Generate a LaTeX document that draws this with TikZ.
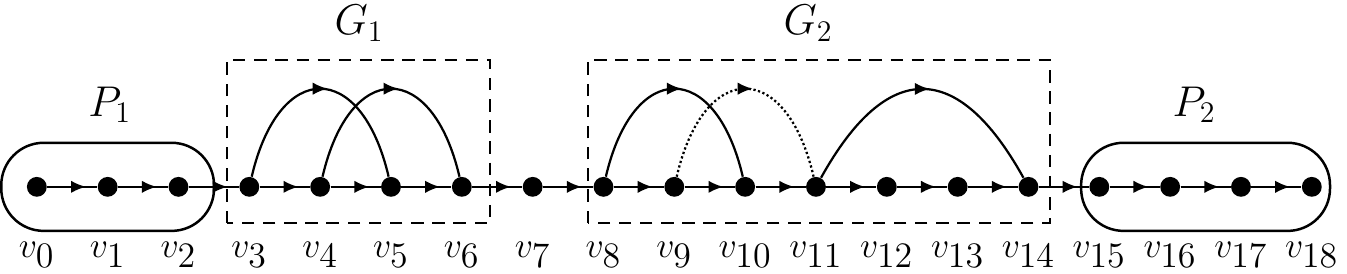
\documentclass[tikz,border=0pt]{standalone}
\usetikzlibrary{arrows.meta,decorations.markings,fit}
\DeclareMathSizes{14.4}{14.4}{14.4}{10}

\begin{document}
\begin{tikzpicture}[
  dot/.style={circle,fill=black,minimum size=0.28cm,inner sep=0pt},
  chainarr/.style={line width=0.9pt,postaction={decorate},decoration={markings,
    mark=at position 0.5 with {\arrow[xshift=5.5pt]{Latex[length=6pt,width=5pt]}}}},
  skiparr/.style={line width=0.9pt,postaction={decorate},decoration={markings,
    mark=at position 0.5 with {\arrow[xshift=3pt]{Latex[length=6pt,width=5pt]}}}},
  pathbox/.style={draw,line width=1pt,rounded corners=0.6cm,inner xsep=0.355cm,inner ysep=0.475cm},
  groupbox/.style={draw,line width=0.7pt,dash pattern=on 5pt off 3.5pt},
  vlab/.style={font=\Large,inner sep=0pt},
  title/.style={font=\LARGE,anchor=base},
  label distance=0.62cm,
  every label/.style={vlab},
]
\useasboundingbox (0,0) rectangle (19.017,3.868);

% === Vertices ===
\node[dot,label=below:$v_0$] (v0) at (0.52,1.23) {};
\node[dot,label=below:$v_1$] (v1) at (1.52,1.23) {};
\node[dot,label=below:$v_2$] (v2) at (2.52,1.23) {};
\node[dot,label=below:$v_3$] (v3) at (3.52,1.23) {};
\node[dot,label=below:$v_4$] (v4) at (4.52,1.23) {};
\node[dot,label=below:$v_5$] (v5) at (5.52,1.23) {};
\node[dot,label=below:$v_6$] (v6) at (6.52,1.23) {};
\node[dot,label=below:$v_7$] (v7) at (7.52,1.23) {};
\node[dot,label=below:$v_8$] (v8) at (8.52,1.23) {};
\node[dot,label=below:$v_9$] (v9) at (9.52,1.23) {};
\node[dot,label=below:$v_{10}$] (v10) at (10.52,1.23) {};
\node[dot,label=below:$v_{11}$] (v11) at (11.52,1.23) {};
\node[dot,label=below:$v_{12}$] (v12) at (12.52,1.23) {};
\node[dot,label=below:$v_{13}$] (v13) at (13.52,1.23) {};
\node[dot,label=below:$v_{14}$] (v14) at (14.52,1.23) {};
\node[dot,label=below:$v_{15}$] (v15) at (15.52,1.23) {};
\node[dot,label=below:$v_{16}$] (v16) at (16.52,1.23) {};
\node[dot,label=below:$v_{17}$] (v17) at (17.52,1.23) {};
\node[dot,label=below:$v_{18}$] (v18) at (18.52,1.23) {};

% === Main path ===
\draw[chainarr] (v0) -- (v1); \draw[chainarr] (v1) -- (v2); \draw[chainarr] (v2) -- (v3);
\draw[chainarr] (v3) -- (v4); \draw[chainarr] (v4) -- (v5); \draw[chainarr] (v5) -- (v6);
\draw[chainarr] (v6) -- (v7); \draw[chainarr] (v7) -- (v8); \draw[chainarr] (v8) -- (v9);
\draw[chainarr] (v9) -- (v10); \draw[chainarr] (v10) -- (v11); \draw[chainarr] (v11) -- (v12);
\draw[chainarr] (v12) -- (v13); \draw[chainarr] (v13) -- (v14); \draw[chainarr] (v14) -- (v15);
\draw[chainarr] (v15) -- (v16); \draw[chainarr] (v16) -- (v17); \draw[chainarr] (v17) -- (v18);

% === Jumps in G1 ===
\draw[skiparr] (v3) .. controls +(0.42,1.8) and +(-0.42,1.8) .. (v5);
\draw[skiparr] (v4) .. controls +(0.42,1.8) and +(-0.42,1.8) .. (v6);

% === Jumps in G2 ===
\draw[skiparr] (v8) .. controls +(0.42,1.8) and +(-0.42,1.8) .. (v10);
\draw[skiparr,densely dotted] (v9) .. controls +(0.42,1.8) and +(-0.42,1.8) .. (v11);
\draw[skiparr] (v11) .. controls +(1.0,1.8) and +(-1.0,1.8) .. (v14);

% Paths P1, P2
\node[pathbox,fit=(v0)(v2)] (P1box) {};
\node[pathbox,inner xsep=0.11cm,fit=(v15)(v18)] (P2box) {};
\node[title] (P1lab) at (1.55,2.23) {$P_1$};
\node[title] (P2lab) at (16.86,2.23) {$P_2$};

% Gadgets G1, G2
\draw[groupbox] (3.2,0.72) rectangle (6.92,3.02);
\draw[groupbox] (8.30,0.72) rectangle (14.82,3.02);
\node[title] (G1lab) at (5.07,3.38) {$G_1$};
\node[title] (G2lab) at (11.41,3.38) {$G_2$};

\end{tikzpicture}
\end{document}
